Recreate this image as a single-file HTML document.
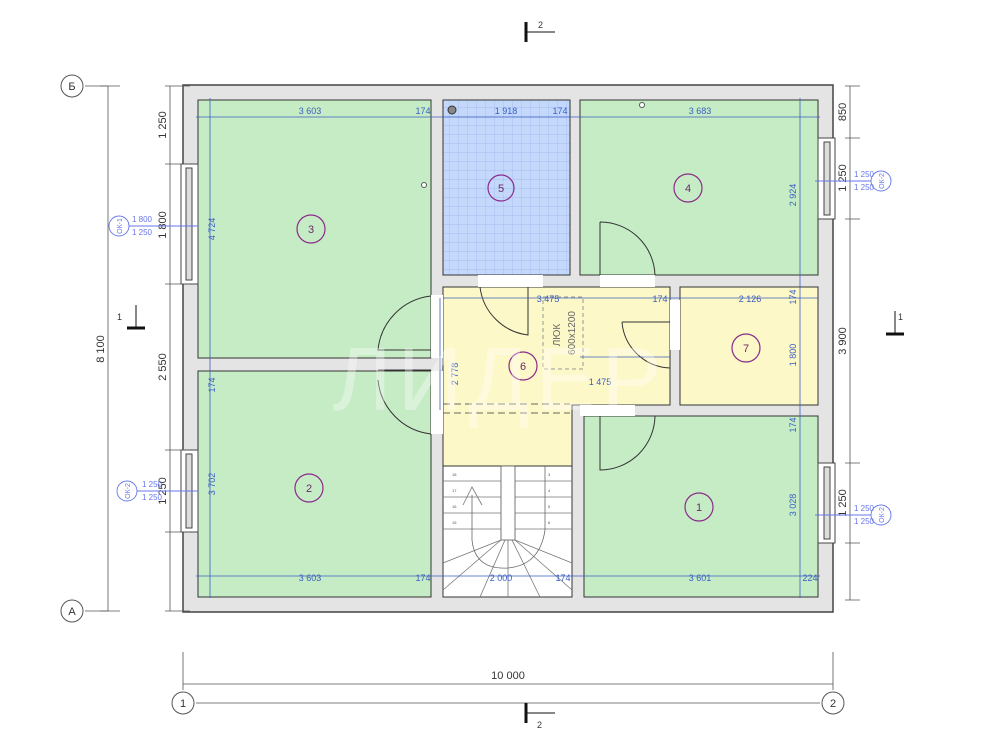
<!DOCTYPE html>
<html><head><meta charset="utf-8"><style>
html,body{margin:0;padding:0;background:#fff}
svg{display:block;font-family:"Liberation Sans",sans-serif}
</style></head><body>
<svg width="1000" height="750" viewBox="0 0 1000 750" xmlns="http://www.w3.org/2000/svg">
<defs>
<pattern id="tile" width="9" height="9" patternUnits="userSpaceOnUse">
<rect width="9" height="9" fill="#c4d8fb"/>
<path d="M9 0V9M0 9H9" stroke="#9bb6ec" stroke-width="0.7"/>
</pattern>
</defs>
<!-- outer walls -->
<rect x="183" y="85" width="650" height="527" fill="#e4e4e4" stroke="#444" stroke-width="1.5"/>
<!-- rooms -->
<rect x="198" y="100" width="233" height="258" fill="#c6ecc6" stroke="#333"/>
<rect x="443" y="100" width="127" height="175" fill="url(#tile)" stroke="#333"/>
<rect x="580" y="100" width="238" height="175" fill="#c6ecc6" stroke="#333"/>
<rect x="198" y="371" width="233" height="226" fill="#c6ecc6" stroke="#333"/>
<path d="M443 287H670V405H572V466H443Z" fill="#fdf8c8" stroke="#333"/>
<rect x="680" y="287" width="138" height="118" fill="#fdf8c8" stroke="#333"/>
<rect x="584" y="416" width="234" height="181" fill="#c6ecc6" stroke="#333"/>
<rect x="443" y="466" width="129" height="131" fill="#fff" stroke="#333"/>
<!-- stairs -->
<g stroke="#777" stroke-width="0.8" fill="none">
<rect x="501" y="466" width="14" height="74" fill="#fff" stroke="#555"/>
<path d="M443 481H501M443 497H501M443 513H501M443 529H501M515 481H572M515 497H572M515 513H572M515 529H572"/>
<path d="M443 563L501 540M443 590L501 540M480 597L505 540M508 597L508 540M540 597L512 540M572 590L515 540M572 563L515 540"/>
<path d="M472 495V540Q475 570 508 568Q540 565 545 530V466" stroke="#666"/>
<path d="M463 505L472 487L482 505"/>
</g>
<g font-size="4" fill="#555"><text x="452" y="476">18</text><text x="548" y="476">3</text><text x="452" y="492">17</text><text x="548" y="492">4</text><text x="452" y="508">16</text><text x="548" y="508">5</text><text x="452" y="524">15</text><text x="548" y="524">6</text></g>
<!-- dashed ladder -->
<rect x="543" y="297" width="40" height="72" fill="none" stroke="#999" stroke-dasharray="4 3"/>
<text transform="translate(560 335) rotate(-90)" font-size="10" fill="#666" text-anchor="middle">ЛЮК</text>
<text transform="translate(575 333) rotate(-90)" font-size="10" fill="#666" text-anchor="middle">600x1200</text>
<path d="M443 404H570M443 413H570" stroke="#666" stroke-dasharray="7 4" fill="none"/>
<!-- doors -->
<g stroke="#333" fill="none" stroke-width="1">
<rect x="431" y="295" width="12" height="63" fill="#fff" stroke="none"/>
<rect x="431" y="371" width="12" height="63" fill="#fff" stroke="none"/>
<rect x="478" y="275" width="65" height="12" fill="#fff" stroke="none"/>
<rect x="600" y="275" width="55" height="12" fill="#fff" stroke="none"/>
<rect x="670" y="300" width="10" height="50" fill="#fff" stroke="none"/>
<rect x="580" y="405" width="55" height="11" fill="#fff" stroke="none"/>
<path d="M431 296A60 60 0 0 0 378 350H431"/>
<path d="M431 434A60 60 0 0 1 378 380"/><path d="M378 370H431"/>
<path d="M480 287A55 55 0 0 0 528 335V287"/>
<path d="M600 222V275M600 222A55 55 0 0 1 655 275"/>
<path d="M622 322H670M622 322A50 50 0 0 0 670 368"/>
<path d="M600 416V470A55 55 0 0 0 655 416"/>
</g>
<!-- windows -->
<g fill="#fff" stroke="#444" stroke-width="1">
<rect x="181" y="164" width="17" height="120"/><rect x="186" y="168" width="6" height="112" fill="#ddd"/>
<rect x="181" y="450" width="17" height="82"/><rect x="186" y="454" width="6" height="74" fill="#ddd"/>
<rect x="818" y="138" width="17" height="81"/><rect x="824" y="142" width="6" height="73" fill="#ddd"/>
<rect x="818" y="463" width="17" height="80"/><rect x="824" y="467" width="6" height="72" fill="#ddd"/>
</g>
<!-- blue interior dims -->
<g stroke="#3a5ec0" stroke-width="0.8" fill="none">
<path d="M196 117H820M196 576H820M443 298H818M580 357H670M210 98V598M440 298V410M800 98V598"/>
</g>
<g font-size="9" fill="#3a5ec0" text-anchor="middle">
<text x="310" y="114">3 603</text><text x="423" y="114">174</text><text x="506" y="114">1 918</text><text x="560" y="114">174</text><text x="700" y="114">3 683</text>
<text x="310" y="581">3 603</text><text x="423" y="581">174</text><text x="501" y="581">2 000</text><text x="563" y="581">174</text><text x="700" y="581">3 601</text><text x="810" y="581">224</text>
<text x="548" y="302">3 475</text><text x="660" y="302">174</text><text x="750" y="302">2 126</text><text x="600" y="385">1 475</text>
<text transform="translate(215 229) rotate(-90)">4 724</text><text transform="translate(215 385) rotate(-90)">174</text><text transform="translate(215 484) rotate(-90)">3 702</text>
<text transform="translate(458 374) rotate(-90)">2 778</text>
<text transform="translate(796 195) rotate(-90)">2 924</text><text transform="translate(796 297) rotate(-90)">174</text><text transform="translate(796 355) rotate(-90)">1 800</text><text transform="translate(796 425) rotate(-90)">174</text><text transform="translate(796 505) rotate(-90)">3 028</text>
</g>
<!-- room tags -->
<g fill="none" stroke="#8a2a8a" stroke-width="1.2">
<circle cx="311" cy="229" r="14"/><circle cx="501" cy="188" r="13"/><circle cx="688" cy="188" r="14"/><circle cx="523" cy="366" r="14"/><circle cx="746" cy="348" r="14"/><circle cx="309" cy="488" r="14"/><circle cx="699" cy="507" r="14"/>
</g>
<g font-size="11" fill="#6a2a6a" text-anchor="middle">
<text x="311" y="233">3</text><text x="501" y="192">5</text><text x="688" y="192">4</text><text x="523" y="370">6</text><text x="746" y="352">7</text><text x="309" y="492">2</text><text x="699" y="511">1</text>
</g>
<circle cx="452" cy="110" r="4" fill="#888" stroke="#333"/>
<circle cx="424" cy="185" r="2.5" fill="#fff" stroke="#555"/>
<circle cx="642" cy="105" r="2.5" fill="#fff" stroke="#555"/>
<!-- exterior dims -->
<g stroke="#555" stroke-width="0.8" fill="none">
<path d="M108 86V611M100 86H120M100 611H120M170 86V611M165 86H190M165 164H190M165 284H190M165 450H190M165 532H190M165 611H190"/>
<path d="M850 86V600M845 86H860M845 138H860M845 219H860M845 463H860M845 543H860M845 600H860"/>
<path d="M183 652V690M833 652V690M183 684H833"/>
<path d="M85 86H108M85 611H108M196 703H820"/>
</g>
<g font-size="11" fill="#333" text-anchor="middle">
<text transform="translate(104 349) rotate(-90)">8 100</text>
<text transform="translate(166 125) rotate(-90)">1 250</text><text transform="translate(166 225) rotate(-90)">1 800</text><text transform="translate(166 367) rotate(-90)">2 550</text><text transform="translate(166 491) rotate(-90)">1 250</text>
<text transform="translate(846 112) rotate(-90)">850</text><text transform="translate(846 178) rotate(-90)">1 250</text><text transform="translate(846 341) rotate(-90)">3 900</text><text transform="translate(846 503) rotate(-90)">1 250</text>
<text x="508" y="679">10 000</text>
</g>
<!-- window tags -->
<g stroke="#6677ee" fill="none" stroke-width="0.9">
<circle cx="119" cy="226" r="10"/><path d="M129 226H198"/>
<circle cx="127" cy="491" r="10"/><path d="M137 491H198"/>
<circle cx="881" cy="181" r="10"/><path d="M815 181H871"/>
<circle cx="881" cy="515" r="10"/><path d="M815 515H871"/>
</g>
<g font-size="8" fill="#6677ee" text-anchor="middle">
<text x="142" y="222">1 800</text><text x="142" y="235">1 250</text>
<text x="152" y="487">1 250</text><text x="152" y="500">1 250</text>
<text x="864" y="177">1 250</text><text x="864" y="190">1 250</text>
<text x="864" y="511">1 250</text><text x="864" y="524">1 250</text>
<text transform="translate(122 226) rotate(-90)" font-size="7">ОК-1</text>
<text transform="translate(130 491) rotate(-90)" font-size="7">ОК-2</text>
<text transform="translate(884 181) rotate(-90)" font-size="7">ОК-2</text>
<text transform="translate(884 515) rotate(-90)" font-size="7">ОК-2</text>
</g>
<!-- axes -->
<g fill="#fff" stroke="#555"><circle cx="72" cy="86" r="11"/><circle cx="72" cy="611" r="11"/><circle cx="183" cy="703" r="11"/><circle cx="833" cy="703" r="11"/></g>
<g font-size="11" fill="#333" text-anchor="middle"><text x="72" y="90">Б</text><text x="72" y="615">А</text><text x="183" y="707">1</text><text x="833" y="707">2</text></g>
<!-- section marks -->
<g stroke="#111" fill="none">
<path d="M526 22V42M526 32H555" stroke-width="1"/><path d="M526 22V42" stroke-width="3"/>
<path d="M526 703V723M526 713H555" stroke-width="1"/><path d="M526 703V723" stroke-width="3"/>
<path d="M127 328H145" stroke-width="3"/><path d="M136 305V328"/>
<path d="M886 334H904" stroke-width="3"/><path d="M895 311V334"/>
</g>
<g font-size="9" fill="#333"><text x="538" y="28">2</text><text x="537" y="728">2</text><text x="117" y="320">1</text><text x="898" y="320">1</text></g>
<!-- watermark -->
<text x="500" y="410" font-size="90" fill="#fff" fill-opacity="0.35" text-anchor="middle" letter-spacing="6">ЛИДЕР</text>
</svg>
</body></html>
